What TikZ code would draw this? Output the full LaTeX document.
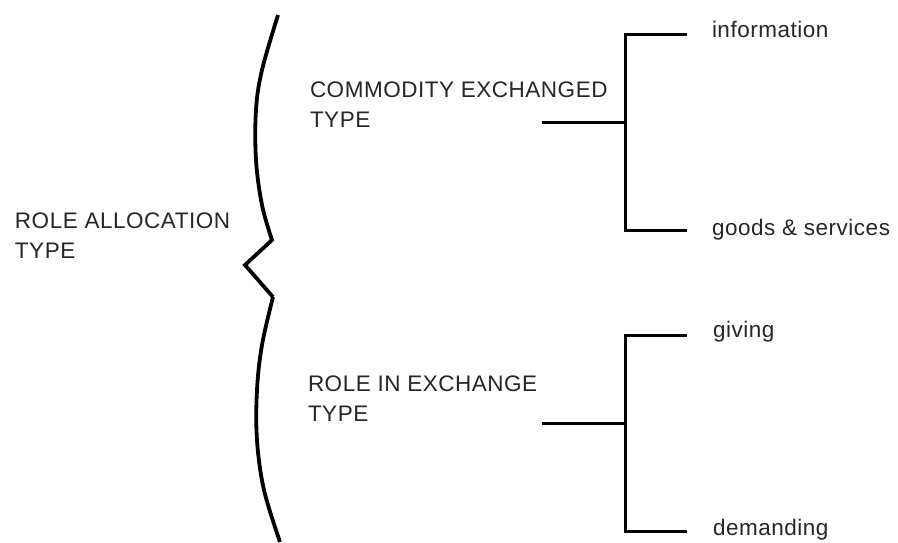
\documentclass[tikz,border=0pt]{standalone}
\usepackage{fontspec}
\setmainfont[LetterSpace=2.3]{Liberation Sans}
\begin{document}
\begin{tikzpicture}[x=1pt,y=-1pt,
  lbl/.style={inner sep=0pt,outer sep=0pt,font=\fontsize{22.5}{30}\selectfont,align=left,text=black!85},
  leaf/.style={inner sep=0pt,outer sep=0pt,font=\fontsize{22.5}{30}\selectfont,anchor=base west,text=black!85},
  wire/.style={line width=3pt,black},
  bracewire/.style={line width=3.8pt,black,line join=miter}]
\useasboundingbox[fill=white] (0,0) rectangle (898,542);

% texts
\node[lbl,anchor=north west] (ral) at (15,213) {ROLE ALLOCATION\\TYPE};
\node[lbl,anchor=north west] (cet) at (310,82) {COMMODITY EXCHANGED\\TYPE};
\node[lbl,anchor=north west] (rie) at (308,376) {ROLE IN EXCHANGE\\TYPE};
\node[leaf] (info) at (712,37) {information};
\node[leaf] (goods) at (712,235) {goods \& services};
\node[leaf] (giv) at (713,337) {giving};
\node[leaf] (dem) at (713,535) {demanding};

% brace
\coordinate (btop) at (278,15);
\coordinate (bk1) at (272,240);
\coordinate (btip) at (245,265);
\coordinate (bk2) at (273,297);
\coordinate (bbot) at (280,542);
\draw[bracewire] plot[smooth,tension=0.6] coordinates {(btop) (262,70) (256,110) (256,160) (262,205) (bk1)}
  -- (btip) -- (bk2)
  plot[smooth,tension=0.6] coordinates {(bk2) (262,345) (257,390) (257,440) (264,490) (bbot)};

% upper bracket
\coordinate (s1) at (542,122);
\coordinate (j1) at (625,122);
\coordinate (t1) at (625,34);
\coordinate (b1) at (625,230);
\coordinate (e1) at (687,34);
\coordinate (f1) at (687,230);
\draw[wire] (s1) -- (j1);
\draw[wire] (e1) -- (t1) -- (b1) -- (f1);

% lower bracket
\coordinate (s2) at (542,423);
\coordinate (j2) at (625,423);
\coordinate (t2) at (625,335);
\coordinate (b2) at (625,531);
\coordinate (e2) at (687,335);
\coordinate (f2) at (687,531);
\draw[wire] (s2) -- (j2);
\draw[wire] (e2) -- (t2) -- (b2) -- (f2);
\end{tikzpicture}
\end{document}
